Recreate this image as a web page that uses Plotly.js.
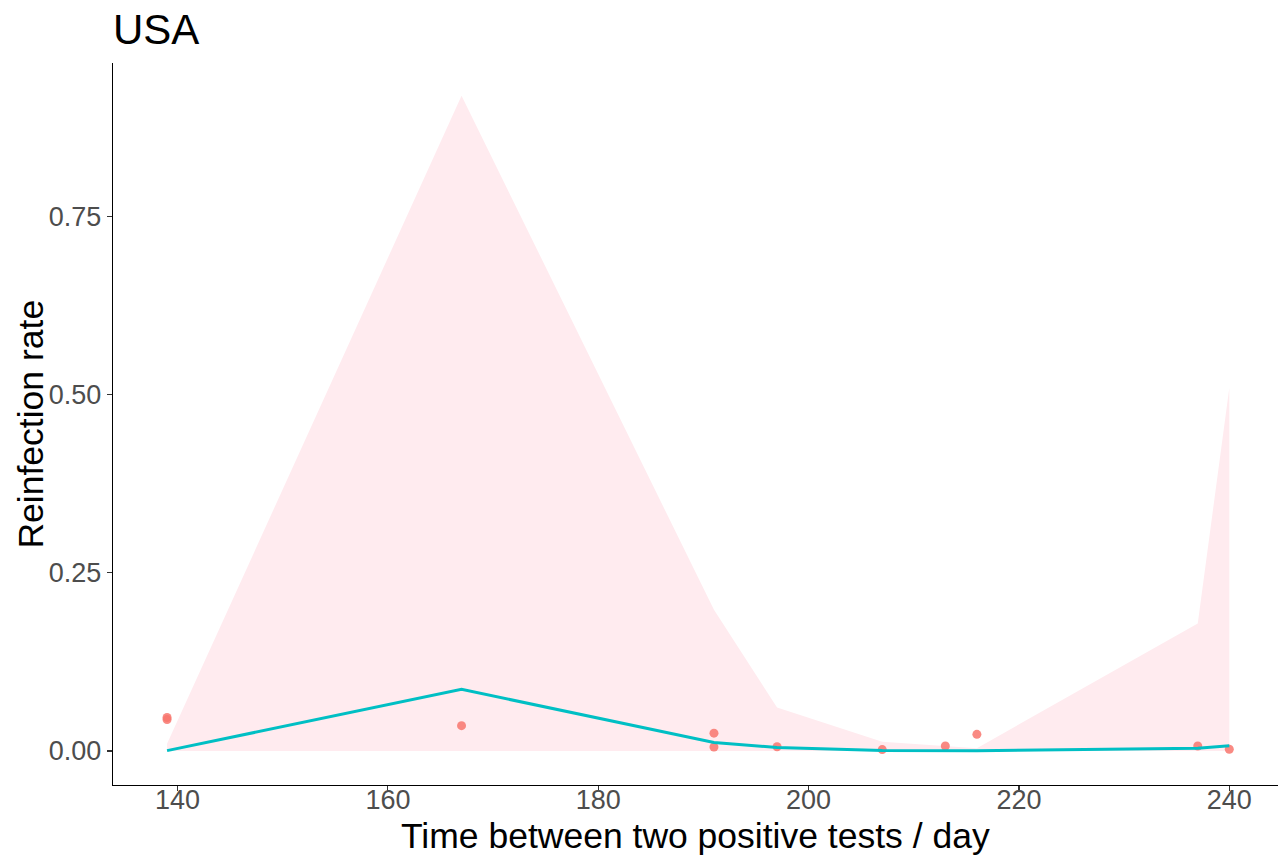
<!DOCTYPE html>
<html>
<head>
<meta charset="utf-8">
<script src="https://cdn.plot.ly/plotly-3.0.1.min.js"></script>
<style>
  html, body { margin: 0; padding: 0; background: #ffffff; }
  #chart { width: 1280px; height: 857px; }
</style>
</head>
<body>
<div id="chart"></div>
<script>
// Observed reinfection rates
const obsDays = [139, 139, 167, 191, 191, 197, 207, 213, 216, 237, 240];
const obsRate = [0.047, 0.044, 0.0355, 0.025, 0.0056, 0.006, 0.002, 0.007, 0.0234, 0.007, 0.0024];

// Fitted curve and confidence band
const fitDays  = [139, 167, 191, 197, 207, 213, 216, 237, 240];
const fitRate  = [0.0005, 0.0865, 0.012, 0.005, 0.0008, 0.0005, 0.0005, 0.0038, 0.0075];
const bandHigh = [0.01, 0.919, 0.198, 0.061, 0.013, 0.007, 0.004, 0.179, 0.509];
const bandLow  = [0, 0, 0, 0, 0, 0, 0, 0, 0];

// Axis ticks
const xTicks = [140, 160, 180, 200, 220, 240];
const yTicks = [0, 0.25, 0.5, 0.75];

const FONT = '"Liberation Sans", Arial, "DejaVu Sans", sans-serif';

const traces = [
  {
    x: fitDays, y: bandLow, type: 'scatter', mode: 'lines',
    line: {width: 0, color: 'rgba(0,0,0,0)'}, hoverinfo: 'skip', showlegend: false
  },
  {
    x: fitDays, y: bandHigh, type: 'scatter', mode: 'lines',
    fill: 'tonexty', fillcolor: 'rgb(255,235,239)',
    line: {width: 0, color: 'rgba(0,0,0,0)'}, hoverinfo: 'skip', showlegend: false
  },
  {
    x: obsDays, y: obsRate, type: 'scatter', mode: 'markers',
    marker: {color: '#F8766D', size: 9, opacity: 0.85}, showlegend: false
  },
  {
    x: fitDays, y: fitRate, type: 'scatter', mode: 'lines',
    line: {color: '#00BFC4', width: 3}, showlegend: false
  }
];

const layout = {
  width: 1280, height: 857,
  paper_bgcolor: '#ffffff', plot_bgcolor: '#ffffff',
  margin: {l: 113, r: 2, t: 63, b: 72, pad: 0},
  font: {family: FONT, color: '#000000'},
  showlegend: false,
  title: {
    text: 'USA', x: 0, xref: 'paper', xanchor: 'left',
    y: 1, yref: 'container', yanchor: 'top', pad: {t: 15},
    font: {family: FONT, size: 42, color: '#000000'}
  },
  xaxis: {
    range: [133.86, 244.63], tickvals: xTicks, ticktext: xTicks.map(String),
    showgrid: false, zeroline: false, automargin: false,
    showline: true, linecolor: '#000000', linewidth: 1.3,
    ticks: 'outside', ticklen: 5, tickwidth: 1.1, tickcolor: '#333333',
    ticklabelstandoff: -15,
    tickfont: {family: FONT, size: 27, color: '#4D4D4D'}
  },
  yaxis: {
    range: [-0.0477, 0.965], tickvals: yTicks, ticktext: yTicks.map(v => v.toFixed(2)),
    showgrid: false, zeroline: false, automargin: false,
    showline: true, linecolor: '#000000', linewidth: 1.3,
    ticks: 'outside', ticklen: 5, tickwidth: 1.1, tickcolor: '#333333',
    tickfont: {family: FONT, size: 27, color: '#4D4D4D'}
  },
  annotations: [
    {
      text: 'Time between two positive tests / day', showarrow: false,
      xref: 'paper', yref: 'paper', x: 0.5, y: -0.0712,
      xanchor: 'center', yanchor: 'middle',
      font: {family: FONT, size: 35.5, color: '#000000'}
    },
    {
      text: 'Reinfection rate', showarrow: false, textangle: -90,
      xref: 'paper', yref: 'paper', x: -0.0708, y: 0.5,
      xanchor: 'center', yanchor: 'middle',
      font: {family: FONT, size: 35.5, color: '#000000'}
    }
  ]
};

Plotly.newPlot('chart', traces, layout, {displayModeBar: false, staticPlot: true});
</script>
</body>
</html>
